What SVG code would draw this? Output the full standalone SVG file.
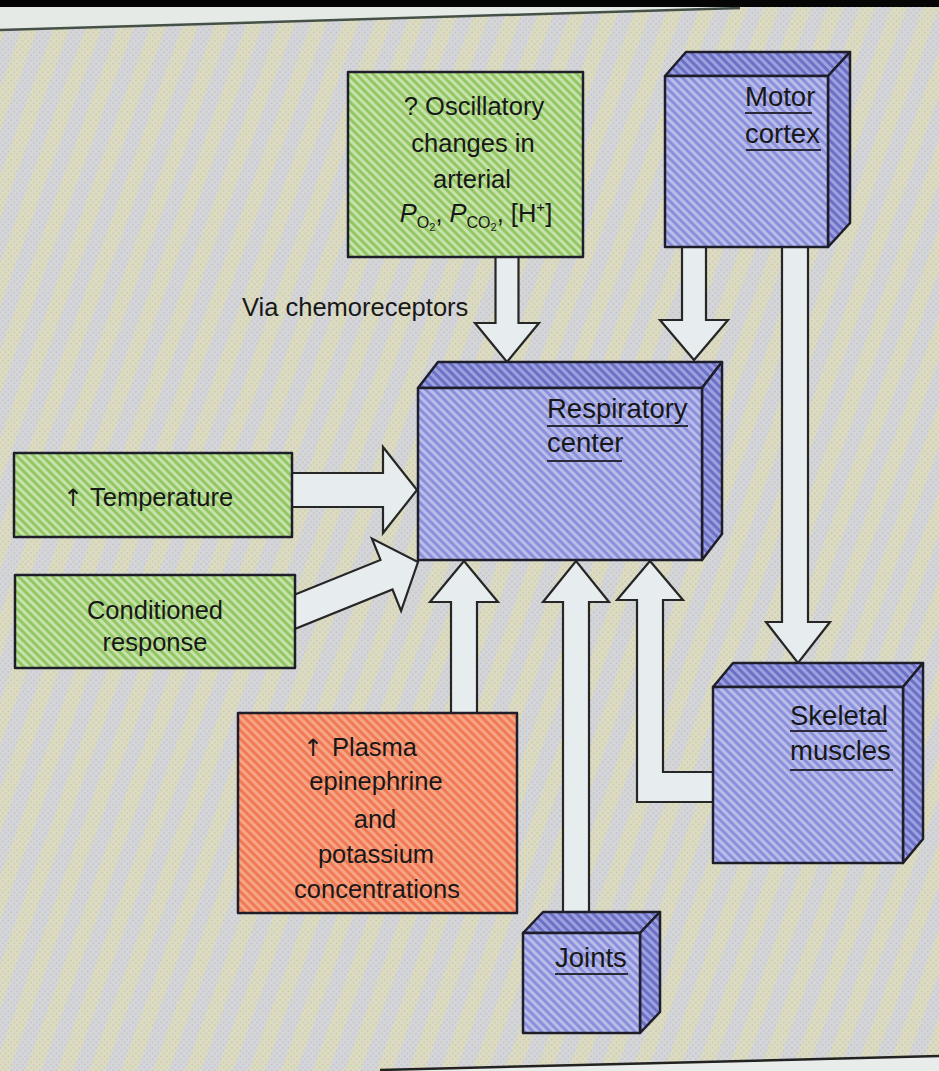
<svg xmlns="http://www.w3.org/2000/svg" width="939" height="1071" viewBox="0 0 939 1071">
  <defs>
    <!-- paper texture: soft diagonal bands plus fine grain -->
    <pattern id="bgBands" width="30" height="30" patternUnits="userSpaceOnUse" patternTransform="rotate(20)">
      <rect width="30" height="30" fill="#dddcc3"/>
      <rect x="15" width="15" height="30" fill="#d5d6da"/>
    </pattern>
    <pattern id="grain" width="4" height="4" patternUnits="userSpaceOnUse" patternTransform="rotate(45)">
      <circle cx="1" cy="1" r="0.9" fill="#7c7c70" opacity="0.22"/>
    </pattern>
    <!-- hatched fills for the boxes -->
    <pattern id="hatchGreen" width="6" height="6" patternUnits="userSpaceOnUse" patternTransform="rotate(-45)">
      <rect width="6" height="6" fill="#c7e2ab"/>
      <rect width="3" height="6" fill="#93c766"/>
    </pattern>
    <pattern id="hatchBlue" width="6" height="6" patternUnits="userSpaceOnUse" patternTransform="rotate(-45)">
      <rect width="6" height="6" fill="#babdea"/>
      <rect width="3" height="6" fill="#8b90da"/>
    </pattern>
    <pattern id="hatchBlueDark" width="6" height="6" patternUnits="userSpaceOnUse" patternTransform="rotate(-45)">
      <rect width="6" height="6" fill="#9da1e0"/>
      <rect width="3" height="6" fill="#6c71c6"/>
    </pattern>
    <pattern id="hatchRed" width="6" height="6" patternUnits="userSpaceOnUse" patternTransform="rotate(-45)">
      <rect width="6" height="6" fill="#f6a686"/>
      <rect width="3" height="6" fill="#ef7a55"/>
    </pattern>
  </defs>
  <style>
    .box { stroke: #1e1e2a; stroke-width: 2.5; stroke-linejoin: round; }
    .green { fill: url(#hatchGreen); }
    .red { fill: url(#hatchRed); }
    .front { fill: url(#hatchBlue); }
    .side { fill: url(#hatchBlueDark); }
    .arrow { fill: #e7edee; stroke: #262626; stroke-width: 2.2; stroke-linejoin: miter; }
    .lbl { font-family: "Liberation Sans", Arial, sans-serif; font-size: 25.5px; fill: #181818; }
    .blbl { font-family: "Liberation Sans", Arial, sans-serif; font-size: 27.5px; fill: #181818; }
    .up { font-family: "DejaVu Sans", sans-serif; font-size: 24px; }
    .ul { stroke: #2a2a3a; stroke-width: 2; }
  </style>

  <!-- background -->
  <rect width="939" height="1071" fill="url(#bgBands)"/>
  <rect width="939" height="1071" fill="url(#grain)"/>
  <!-- page edges -->
  <polygon points="0,0 939,0 939,7 0,7" fill="#050505"/>
  <polygon points="0,7 760,7 0,29" fill="#e6eae6"/>
  <line x1="0" y1="30" x2="740" y2="8" stroke="#2c3a30" stroke-width="2.5" opacity="0.85"/>
  <polygon points="380,1071 939,1057 939,1071" fill="#e8ecea"/>
  <line x1="380" y1="1070" x2="939" y2="1056" stroke="#222" stroke-width="2.5"/>

  <!-- connectors -->
  <g id="connectors">
    <!-- chemoreceptor input -->
    <polygon class="arrow" points="495.5,250 518.5,250 518.5,323 539,323 507,362 475,323 495.5,323"/>
    <!-- motor cortex to respiratory center -->
    <polygon class="arrow" points="682,240 706,240 706,320 728,320 694,360 660,320 682,320"/>
    <!-- motor cortex to skeletal muscles -->
    <polygon class="arrow" points="782,240 808,240 808,622 830,622 798,663 766,622 782,622"/>
    <!-- temperature -->
    <polygon class="arrow" points="285,473 383,473 383,447 417,490 383,533 383,507 285,507"/>
    <!-- conditioned response -->
    <polygon class="arrow" points="274,603 380.5,559.9 371.9,538.5 418,562 401.1,610.9 392.5,589.5 286,632.6"/>
    <!-- plasma concentrations -->
    <polygon class="arrow" points="451,720 477,720 477,602 498,602 464,561 430,602 451,602"/>
    <!-- joints -->
    <polygon class="arrow" points="563,920 589,920 589,602 609,602 576,561 543,602 563,602"/>
    <!-- skeletal muscles feedback -->
    <polygon class="arrow" points="637,802 720,802 720,772 663,772 663,600 683,600 650,561 617,600 637,600"/>
  </g>

  <!-- nodes -->
  <g id="oscillatory">
    <rect class="box green" x="348" y="72" width="235" height="185"/>
    <text class="lbl" text-anchor="middle" x="474" y="115">? Oscillatory</text>
    <text class="lbl" text-anchor="middle" x="473" y="152">changes in</text>
    <text class="lbl" text-anchor="middle" x="472" y="188">arterial</text>
    <text class="lbl" text-anchor="middle" x="476" y="222"><tspan font-style="italic">P</tspan><tspan font-size="16" dy="6">O</tspan><tspan font-size="11" dy="3">2</tspan><tspan dy="-9">, </tspan><tspan font-style="italic">P</tspan><tspan font-size="16" dy="6">CO</tspan><tspan font-size="11" dy="3">2</tspan><tspan dy="-9">, [H</tspan><tspan font-size="15" dy="-10">+</tspan><tspan dy="10">]</tspan></text>
  </g>

  <g id="via-label">
    <text class="lbl" x="242" y="316">Via chemoreceptors</text>
  </g>

  <g id="motor-cortex">
    <polygon class="box side" points="665,76 686,52 850,52 828,76"/>
    <polygon class="box side" points="828,76 850,52 850,223 828,247"/>
    <rect class="box front" x="665" y="76" width="163" height="171"/>
    <text class="blbl" x="745" y="106">Motor</text>
    <text class="blbl" x="745" y="143">cortex</text>
    <line class="ul" x1="745" y1="113" x2="812" y2="113"/>
    <line class="ul" x1="746" y1="150" x2="821" y2="150"/>
  </g>

  <g id="respiratory-center">
    <polygon class="box side" points="418,388 438,362 722,362 702,388"/>
    <polygon class="box side" points="702,388 722,362 722,534 702,560"/>
    <rect class="box front" x="418" y="388" width="284" height="172"/>
    <text class="blbl" x="547" y="418">Respiratory</text>
    <text class="blbl" x="547" y="452">center</text>
    <line class="ul" x1="547" y1="426" x2="688" y2="426"/>
    <line class="ul" x1="547" y1="461" x2="622" y2="461"/>
  </g>

  <g id="temperature">
    <rect class="box green" x="14" y="453" width="278" height="84"/>
    <text class="lbl" y="506"><tspan class="up" x="63">↑</tspan><tspan x="90">Temperature</tspan></text>
  </g>

  <g id="conditioned-response">
    <rect class="box green" x="15" y="575" width="280" height="93"/>
    <text class="lbl" text-anchor="middle" x="155" y="619">Conditioned</text>
    <text class="lbl" text-anchor="middle" x="155" y="651">response</text>
  </g>

  <g id="plasma">
    <rect class="box red" x="238" y="713" width="279" height="200"/>
    <text class="lbl" y="756"><tspan class="up" x="303">↑</tspan><tspan x="332">Plasma</tspan></text>
    <text class="lbl" text-anchor="middle" x="376" y="790">epinephrine</text>
    <text class="lbl" text-anchor="middle" x="375" y="828">and</text>
    <text class="lbl" text-anchor="middle" x="376" y="863">potassium</text>
    <text class="lbl" text-anchor="middle" x="377" y="898">concentrations</text>
  </g>

  <g id="skeletal-muscles">
    <polygon class="box side" points="713,687 733,663 923,663 903,687"/>
    <polygon class="box side" points="903,687 923,663 923,839 903,863"/>
    <rect class="box front" x="713" y="687" width="190" height="176"/>
    <text class="blbl" x="790" y="725">Skeletal</text>
    <text class="blbl" x="790" y="760">muscles</text>
    <line class="ul" x1="790" y1="731" x2="887" y2="731"/>
    <line class="ul" x1="790" y1="770" x2="893" y2="770"/>
  </g>

  <g id="joints">
    <polygon class="box side" points="523,933 543,912 660,912 640,933"/>
    <polygon class="box side" points="640,933 660,912 660,1012 640,1033"/>
    <rect class="box front" x="523" y="933" width="117" height="100"/>
    <text class="blbl" x="555" y="967">Joints</text>
    <line class="ul" x1="555" y1="974" x2="628" y2="974"/>
  </g>
</svg>
